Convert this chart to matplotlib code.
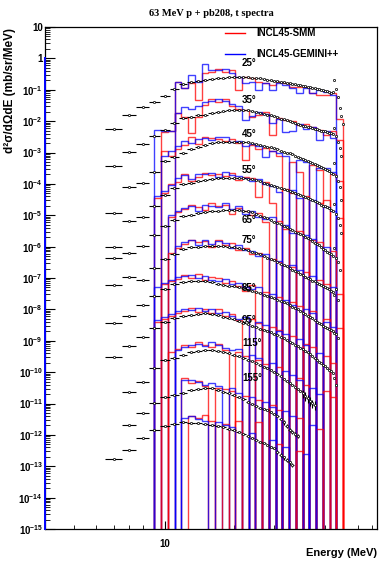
import numpy as np
import matplotlib.pyplot as plt
from matplotlib.ticker import LogLocator, FixedLocator, FuncFormatter, NullFormatter

plt.rcParams["font.family"] = "Liberation Sans"
plt.rcParams["font.weight"] = "bold"
plt.rcParams["mathtext.fontset"] = "custom"
plt.rcParams["mathtext.rm"] = "Liberation Sans:bold"
plt.rcParams["mathtext.bf"] = "Liberation Sans:bold"
plt.rcParams["mathtext.default"] = "bf"

# === experimental triton spectra ===
# log10 of d2sigma/dOmega dE (mb/sr/MeV), 1 MeV steps starting at e_start
e_start = [6, 6, 6, 6, 6, 6, 6, 6, 7, 7, 6]

exp_1 = [-2.26, -1.81, -1.55, -1.38, -1.20, -0.98, -0.82, -0.75, -0.72, -0.69,
         -0.66, -0.63, -0.61, -0.59, -0.58, -0.58, -0.59, -0.60, -0.62, -0.63,
         -0.64, -0.66, -0.68, -0.70, -0.71, -0.73, -0.74, -0.76, -0.78, -0.79,
         -0.81, -0.82, -0.84, -0.85, -0.87, -0.89, -0.90, -0.92, -0.93, -0.95,
         -0.97, -0.98, -1.00, -1.01, -1.03, -1.05, -1.06, -1.09, -1.07, -0.69,
         -0.98, -1.23, -1.58, -1.84, -2.09]
exp_2 = [-2.43, -1.97, -1.73, -1.47, -1.28, -1.05, -0.89, -0.86, -0.82, -0.79,
         -0.74, -0.71, -0.68, -0.65, -0.63, -0.63, -0.65, -0.66, -0.68, -0.70,
         -0.73, -0.76, -0.79, -0.82, -0.85, -0.88, -0.92, -0.94, -0.97, -1.00,
         -1.03, -1.06, -1.09, -1.12, -1.14, -1.16, -1.18, -1.20, -1.22, -1.24,
         -1.26, -1.28, -1.30, -1.31, -1.33, -1.35, -1.37, -1.39, -1.41, -1.22,
         -1.47, -1.67, -1.86, -2.11]
exp_3 = [-2.94, -2.09, -1.96, -1.62, -1.27, -1.13, -1.03, -0.90, -0.82, -0.76,
         -0.71, -0.68, -0.66, -0.65, -0.65, -0.66, -0.67, -0.68, -0.70, -0.72,
         -0.75, -0.78, -0.81, -0.84, -0.87, -0.90, -0.94, -0.97, -1.00, -1.03,
         -1.06, -1.10, -1.13, -1.17, -1.20, -1.23, -1.26, -1.29, -1.33, -1.36,
         -1.40, -1.43, -1.46, -1.49, -1.53, -1.56, -1.59, -1.64, -1.70, -1.33,
         -1.75, -1.91, -2.10, -2.51]
exp_4 = [-3.00, -2.18, -2.05, -1.70, -1.36, -1.12, -1.01, -0.97, -0.92, -0.88,
         -0.84, -0.82, -0.81, -0.80, -0.80, -0.81, -0.82, -0.84, -0.86, -0.89,
         -0.92, -0.96, -0.99, -1.02, -1.06, -1.09, -1.13, -1.16, -1.20, -1.23,
         -1.26, -1.29, -1.32, -1.35, -1.39, -1.42, -1.45, -1.48, -1.51, -1.55,
         -1.58, -1.62, -1.66, -1.69, -1.72, -1.75, -1.78, -1.83, -1.88, -1.64,
         -1.96, -2.09, -2.31, -2.57]
exp_5 = [-2.36, -2.19, -1.98, -1.63, -1.34, -1.14, -1.02, -0.98, -0.94, -0.91,
         -0.88, -0.85, -0.84, -0.83, -0.83, -0.84, -0.86, -0.88, -0.91, -0.96,
         -1.01, -1.06, -1.10, -1.15, -1.20, -1.25, -1.29, -1.34, -1.39, -1.44,
         -1.48, -1.52, -1.56, -1.60, -1.64, -1.68, -1.73, -1.77, -1.82, -1.87,
         -1.92, -1.96, -2.01, -2.06, -2.11, -2.16, -2.20, -2.25, -2.30, -2.04,
         -2.36, -2.49, -2.75]
exp_6 = [-2.22, -1.96, -2.05, -1.69, -1.40, -1.24, -1.09, -1.02, -1.00, -0.99,
         -0.98, -0.98, -0.99, -1.00, -1.02, -1.04, -1.08, -1.11, -1.16, -1.20,
         -1.25, -1.30, -1.35, -1.39, -1.44, -1.49, -1.54, -1.59, -1.63, -1.68,
         -1.73, -1.78, -1.82, -1.87, -1.92, -1.96, -2.00, -2.04, -2.08, -2.11,
         -2.16, -2.19, -2.22, -2.26, -2.29, -2.32, -2.35, -2.40, -2.45, -2.54,
         -2.35, -2.70]
exp_7 = [-2.42, -2.22, -1.85, -1.56, -1.35, -1.19, -1.14, -1.10, -1.09, -1.11,
         -1.14, -1.18, -1.21, -1.24, -1.27, -1.30, -1.33, -1.37, -1.41, -1.45,
         -1.48, -1.53, -1.57, -1.61, -1.65, -1.69, -1.73, -1.77, -1.81, -1.86,
         -1.91, -1.96, -2.00, -2.05, -2.10, -2.15, -2.20, -2.24, -2.29, -2.34,
         -2.39, -2.44, -2.48, -2.53, -2.57, -2.60, -2.64, -2.67, -2.70, -2.74,
         -2.78, -2.91]
exp_8 = [-2.52, -2.16, -1.89, -1.60, -1.41, -1.28, -1.21, -1.18, -1.15, -1.13,
         -1.15, -1.18, -1.23, -1.27, -1.32, -1.37, -1.42, -1.48, -1.53, -1.57,
         -1.61, -1.65, -1.69, -1.73, -1.77, -1.82, -1.87, -1.92, -1.98, -2.03,
         -2.08, -2.13, -2.17, -2.22, -2.27, -2.32, -2.37, -2.42, -2.49, -2.55,
         -2.61, -2.67, -2.72, -2.77, -2.82, -2.87, -2.92, -2.96, -3.03, -3.19,
         -3.41]
exp_9 = [-2.64, -2.31, -1.88, -1.60, -1.56, -1.45, -1.36, -1.33, -1.30,
         -1.30, -1.32, -1.35, -1.39, -1.44, -1.50, -1.55, -1.60, -1.65, -1.72,
         -1.77, -1.83, -1.88, -1.93, -1.99, -2.06, -2.13, -2.21, -2.28, -2.36,
         -2.42, -2.48, -2.55, -2.61, -2.68, -2.76, -2.84, -2.92, -2.99, -3.05]
exp_10 = [-2.69, -2.31, -1.98, -1.80, -1.73, -1.65, -1.57, -1.54, -1.52,
          -1.52, -1.57, -1.62, -1.67, -1.73, -1.78, -1.86, -1.94, -2.02, -2.08,
          -2.13, -2.18, -2.22, -2.27, -2.32, -2.40, -2.49, -2.60, -2.72, -2.83,
          -2.91, -2.97, -3.04]
exp_11 = [-2.77, -2.48, -2.11, -1.84, -1.72, -1.66, -1.60, -1.61, -1.62, -1.65,
          -1.69, -1.72, -1.75, -1.80, -1.84, -1.90, -1.96, -2.03, -2.09, -2.16,
          -2.22, -2.27, -2.32, -2.38, -2.43, -2.53, -2.63, -2.72, -2.80, -2.88,
          -2.96]

# larger statistical errors at the high-energy end of the backward spectra
tail_err = {8: (40, 0.30), 9: (33, 0.15), 10: (31, 0.15)}

# each spectrum is shifted down by one decade
scale = [1, 1e-1, 1e-2, 1e-3, 1e-4, 1e-5, 1e-6, 1e-7, 1e-8, 1e-9, 1e-10]

# === model histograms (log10, None = empty bin), 28 log bins 9-60 MeV ===
bin_edges = np.geomspace(9.0, 60.0, 29)

smm_1 = [None, None, None, -0.76, -0.95, -0.79, -1.33, -0.48, -0.42, -0.34,
         -0.43, -0.37, -1.01, -0.58, -0.63, -0.74, -0.78, -0.85, -0.74, -0.79,
         -0.90, -0.90, -0.90, -1.11, -1.17, -1.17, -1.11, -1.94]
gem_1 = [None, None, None, -0.76, -0.95, -0.53, -0.74, -0.19, -0.37, -0.37,
         -0.35, -0.48, -0.58, -0.79, -0.74, -1.01, -0.78, -1.01, -0.79, -0.85,
         -0.94, -1.11, -0.95, -1.11, -1.01, -1.06, -1.17, None]
smm_2 = [None, -1.34, -1.31, -0.75, -0.87, -1.38, -0.86, -0.49, -0.28, -0.40,
         -0.30, -0.52, -0.60, -0.65, -0.86, -0.82, -0.72, -1.44, -0.90, -0.95,
         -1.00, -1.12, -1.10, -1.20, -1.28, -1.45, -1.32, -1.60]
gem_2 = [-1.28, -1.30, -1.33, -0.75, -0.55, -0.62, -0.52, -0.38, -0.35, -0.30,
         -0.36, -0.44, -0.52, -0.97, -0.83, -0.70, -0.78, -1.05, -0.92, -1.34,
         -1.30, -1.10, -1.25, -1.18, -1.61, -1.30, -1.55, None]
smm_3 = [None, -0.95, -1.10, -0.88, -0.75, -0.50, -0.72, -0.50, -0.55, -0.58,
         -0.62, -0.56, -0.70, -1.24, -0.75, -0.90, -0.85, -0.95, -1.12, None,
         -1.29, -1.61, None, -1.40, -1.55, None, -1.70, -1.90]
gem_3 = [None, -1.10, -0.95, -0.80, -0.62, -0.70, -0.58, -0.55, -0.60, -0.52,
         -0.50, -0.68, -0.62, -0.80, -0.72, -0.78, -1.14, -0.95, -1.02, -1.10,
         None, -1.25, -1.30, None, -1.50, -1.48, -1.62, None]
smm_4 = [-1.45, -1.30, -1.00, -0.95, -0.70, -0.90, -0.78, -0.66, -0.72, -0.70,
         -0.74, -0.66, -0.88, -0.78, -0.82, -1.41, -0.95, -1.62, None, -1.15,
         -1.30, None, -1.38, None, -1.60, -1.50, None, -2.10]
gem_4 = [-1.40, -1.22, -1.05, -0.80, -0.72, -0.85, -0.70, -0.70, -0.66, -0.78,
         -0.63, -0.72, -0.76, -0.80, -0.92, -0.85, -1.00, -1.08, -1.25, None,
         -1.20, -1.45, None, -1.50, None, -1.75, -1.85, None]
smm_5 = [None, None, -1.05, -0.90, -0.80, -0.66, -0.75, -0.82, -0.60, -0.72,
         -0.68, -0.95, -0.78, -0.85, -1.00, -0.92, -1.20, None, -1.18, -1.45,
         None, -1.50, None, -1.80, -1.85, None, -2.15, None]
gem_5 = [None, None, -1.00, -0.85, -0.78, -0.72, -0.88, -0.66, -0.70, -0.75,
         -0.62, -0.80, -0.70, -0.95, -0.88, -1.05, -1.12, -1.05, None, -1.30,
         -1.55, None, -1.62, -1.75, None, -2.00, None, None]
smm_6 = [None, None, -1.20, -1.05, -0.92, -0.78, -0.85, -0.82, -1.00, -0.80,
         -0.95, -0.90, -1.12, -1.05, -1.25, -1.20, None, -1.40, -1.50, None,
         -1.65, None, -1.80, None, -2.05, -2.20, None, -2.50]
gem_6 = [None, None, None, -0.98, -0.85, -0.80, -0.95, -0.78, -0.92, -0.82,
         -0.88, -1.05, -0.95, -1.10, -1.15, -1.30, -1.22, None, -1.45, None,
         -1.60, -1.75, None, -1.95, None, None, -2.30, None]
smm_7 = [None, -1.20, -1.10, -1.02, -0.90, -1.00, -0.88, -1.05, -0.98, -1.00,
         -1.15, -1.10, -1.25, -1.40, -1.22, None, -1.45, None, -1.60, None,
         -1.75, -1.90, None, -2.05, None, -2.30, None, -2.60]
gem_7 = [-1.30, -1.15, -1.05, -0.98, -0.95, -0.92, -1.00, -0.95, -1.05, -1.10,
         -1.02, -1.20, -1.15, -1.28, -1.35, -1.30, None, -1.50, None, -1.70,
         -1.85, None, -2.00, -2.10, None, -2.40, -2.55, None]
smm_8 = [-1.40, -1.30, -1.20, -1.10, -1.05, -0.95, -1.08, -0.98, -1.12, -1.00,
         -1.20, -1.15, -1.35, None, -1.30, -1.45, None, -1.55, -1.65, None,
         -1.85, None, -2.10, -2.20, None, -2.50, -2.70, None]
gem_8 = [-1.35, -1.25, -1.15, -1.05, -0.98, -1.02, -0.95, -1.05, -0.98, -1.10,
         -1.08, -1.20, -1.30, -1.25, None, -1.40, -1.50, None, -1.70, -1.80,
         None, -1.95, -2.15, None, -2.40, None, None, None]
smm_9 = [None, None, -1.35, -1.25, -1.15, -1.20, -1.05, -1.12, -1.20, -1.10,
         -1.30, None, -1.35, -1.50, None, -1.60, -1.75, None, -1.85, None,
         None, -2.20, -2.40, None, None, -2.60, -2.80, None]
gem_9 = [None, None, None, -1.30, -1.20, -1.15, -1.10, -1.18, -1.05, -1.15,
         -1.22, -1.30, -1.25, None, -1.45, -1.55, None, -1.70, None, -1.95,
         -2.10, -2.25, None, -2.50, -2.70, None, None, None]
smm_10 = [None, None, None, None, -1.19, -1.35, -1.28, -1.45, None, -1.50,
          -1.55, -1.60, None, -1.75, None, -1.90, None, -2.05, -2.20, None,
          None, -2.45, None, None, -2.80, None, None, None]
gem_10 = [None, None, None, None, -1.25, -1.25, -1.30, -1.40, -1.35, -1.45,
          None, -1.50, -1.65, None, -1.80, None, -1.95, -2.10, None, -2.25,
          -2.40, None, None, -2.70, None, None, None, None]
smm_11 = [None, None, None, None, None, -1.40, -1.45, -1.37, -1.55, None,
          -1.65, None, -1.56, None, None, -1.59, None, None, -2.30, None,
          None, -2.50, None, None, None, None, None, None]
gem_11 = [None, None, None, None, -1.45, -1.40, -1.50, -1.55, None, -1.60,
          -1.70, -1.75, None, None, -1.95, None, None, -2.15, None, -2.40,
          None, None, -2.60, None, None, None, None, None]

exp_all = [exp_1, exp_2, exp_3, exp_4, exp_5, exp_6, exp_7, exp_8, exp_9, exp_10, exp_11]
smm_all = [smm_1, smm_2, smm_3, smm_4, smm_5, smm_6, smm_7, smm_8, smm_9, smm_10, smm_11]
gem_all = [gem_1, gem_2, gem_3, gem_4, gem_5, gem_6, gem_7, gem_8, gem_9, gem_10, gem_11]

angle_labels = ["25°", "35°", "45°", "55°", "65°", "75°", "85°", "95°", "115°", "155°"]
label_y = [0.71, 0.047, 3.75e-3, 2.77e-4, 7.3e-6, 1.63e-6, 4.8e-8, 4.6e-9, 8.5e-10, 6.5e-11]

E_LO, E_HI = 3.0, 84.3
Y_LO, Y_HI = 1e-15, 10.0
FLOOR = 1e-20  # empty bins drop below the frame

# === PLOT ===
fig = plt.figure(figsize=(3.79, 5.61), dpi=100)
ax = fig.add_axes([45 / 379, 32 / 561, 332 / 379, 502 / 561])
ax.set_xscale("log")
ax.set_yscale("log")

for k in range(len(exp_all)):
    for vals, col in ((smm_all[k], "#ff0000"), (gem_all[k], "#0000ff")):
        y = np.array([10.0 ** v * scale[k] if v is not None else FLOOR for v in vals])
        ax.stairs(y, bin_edges, baseline=FLOOR, color=col, lw=1.0, alpha=0.75, zorder=2)

for k, lg in enumerate(exp_all):
    e = np.arange(e_start[k], e_start[k] + len(lg))
    y = 10.0 ** np.array(lg) * scale[k]
    rel = np.full(len(lg), 0.04)
    if k in tail_err:
        e_t, r_t = tail_err[k]
        rel[e >= e_t] = r_t
    ax.errorbar(e, y, xerr=0.5, yerr=rel * y, fmt="o", ms=1.6, mfc="white",
                mec="black", mew=0.5, ecolor="black", elinewidth=0.8,
                capsize=0, zorder=3)

# blue line along the left frame
ax.plot([E_LO, E_LO], [1.0, Y_LO], color="#0000ff", lw=1.4, zorder=4, clip_on=False)

for txt, yv in zip(angle_labels, label_y):
    ax.text(21.7, yv, txt, fontsize=7, fontweight="bold", ha="left", va="center", zorder=5)

# legend
ax.plot([0.542, 0.602], [0.988, 0.988], transform=ax.transAxes, color="#ff0000", lw=1.0)
ax.plot([0.542, 0.602], [0.946, 0.946], transform=ax.transAxes, color="#0000ff", lw=1.0)
ax.text(0.636, 0.988, "INCL45-SMM", transform=ax.transAxes, fontsize=7,
        fontweight="bold", va="center")
ax.text(0.636, 0.946, "INCL45-GEMINI++", transform=ax.transAxes, fontsize=7,
        fontweight="bold", va="center")

ax.set_xlim(E_LO, E_HI)
ax.set_ylim(Y_LO, Y_HI)

# === AXES STYLE ===
decades = [10.0 ** p for p in range(-15, 2)]
ax.yaxis.set_major_locator(FixedLocator(decades))
ax.yaxis.set_minor_locator(LogLocator(base=10, subs=np.arange(2, 10), numticks=40))


def ylab(v, pos):
    p = int(round(np.log10(v)))
    if p == 1:
        return "10"
    if p == 0:
        return "1"
    return r"$10^{%d}$" % p


ax.yaxis.set_major_formatter(FuncFormatter(ylab))
ax.yaxis.set_minor_formatter(NullFormatter())
ax.xaxis.set_major_locator(FixedLocator([10]))
ax.xaxis.set_major_formatter(FuncFormatter(lambda v, p: "10"))
ax.xaxis.set_minor_locator(LogLocator(base=10, subs=np.arange(2, 10), numticks=10))
ax.xaxis.set_minor_formatter(NullFormatter())

ax.tick_params(axis="y", which="major", direction="in", length=7, width=0.8,
               labelsize=7, pad=1.5)
ax.tick_params(axis="y", which="minor", direction="in", length=3.5, width=0.6)
ax.tick_params(axis="x", which="major", direction="in", length=6, width=0.8,
               labelsize=7, pad=7)
ax.tick_params(axis="x", which="minor", direction="in", length=3, width=0.6)
ax.tick_params(top=False, right=False)
for s in ax.spines.values():
    s.set_linewidth(0.9)

fig.text(211 / 379, 1 - 13 / 561, "63 MeV p + pb208, t spectra", ha="center",
         va="center", fontsize=7.5, fontweight="bold", family="Liberation Serif")
fig.text(10 / 379, 1 - 28 / 561, "d²σ/dΩdE (mb/sr/MeV)", rotation=90, ha="center",
         va="top", fontsize=8.5, fontweight="bold")
fig.text(377 / 379, 1 - 553 / 561, "Energy (MeV)", ha="right", va="center",
         fontsize=8, fontweight="bold")

fig.savefig("out.png", dpi=100)
